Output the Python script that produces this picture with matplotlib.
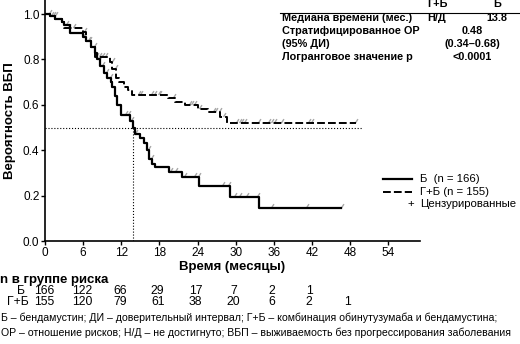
import numpy as np
import matplotlib
matplotlib.use("Agg")
import matplotlib.pyplot as plt
from matplotlib.path import Path

plt.rcParams['font.family'] = ['Liberation Sans Narrow', 'Liberation Sans', 'DejaVu Sans']

# Б (бендамустин): ступени кривой Каплана-Мейера
b_time = [0, 0.8, 1.6, 2.6, 3.0, 3.9, 5.9, 6.5, 7.3, 7.9, 8.2, 8.7, 9.3, 9.8, 10.4, 10.6,
          11.0, 11.4, 11.9, 13.3, 13.8, 14.2, 14.9, 15.6, 16.1, 16.4, 16.9, 17.3, 19.5,
          21.6, 24.2, 29.1, 33.6, 46.6]
b_surv = [1.0, 0.99, 0.98, 0.965, 0.95, 0.915, 0.90, 0.88, 0.855, 0.83, 0.80, 0.77, 0.74,
          0.72, 0.70, 0.68, 0.64, 0.60, 0.555, 0.53, 0.50, 0.47, 0.455, 0.43, 0.40, 0.36,
          0.34, 0.327, 0.305, 0.28, 0.242, 0.194, 0.145, 0.145]
b_cens = [0.6, 1.2, 3.3, 6.0, 6.8, 7.7, 8.3, 8.6, 9.0, 9.6, 10.2, 12.6, 13.0, 13.5, 14.2,
          16.2, 16.7, 19.7, 20.5, 21.8, 23.4, 24.0, 27.8, 28.8, 29.7, 30.5, 31.6, 33.4,
          35.5, 41.1, 46.6]

# Г+Б (обинутузумаб + бендамустин)
gb_time = [0, 0.8, 1.6, 2.6, 3.0, 5.9, 6.5, 7.3, 7.9, 10.3, 10.6, 11.1, 11.7, 12.5, 13.1,
           13.7, 19.4, 20.5, 22.1, 24.0, 25.7, 27.6, 28.7, 49.0]
gb_surv = [1.0, 0.99, 0.98, 0.965, 0.94, 0.92, 0.88, 0.855, 0.81, 0.79, 0.76, 0.72, 0.70,
           0.68, 0.665, 0.645, 0.63, 0.612, 0.60, 0.58, 0.568, 0.546, 0.52, 0.52]
gb_cens = [0.9, 1.5, 3.6, 4.4, 6.2, 7.0, 8.1, 8.5, 8.9, 9.4, 10.5, 11.0, 14.7, 15.0, 16.6,
           17.1, 17.7, 18.0, 20.1, 22.6, 22.9, 23.4, 24.2, 26.4, 26.7, 27.3, 28.0, 30.0,
           30.5, 30.8, 31.3, 33.5, 35.1, 35.5, 36.0, 37.1, 41.4, 41.9, 48.7]

median_b = 13.8

risk_b = [166, 122, 66, 29, 17, 7, 2, 1]
risk_gb = [155, 120, 79, 61, 38, 20, 6, 2, 1]

x_ticks = [0, 6, 12, 18, 24, 30, 36, 42, 48, 54]
y_ticks = [0.0, 0.2, 0.4, 0.6, 0.8, 1.0]


def step_value(times, surv, t):
    i = np.searchsorted(times, t, side='right') - 1
    return surv[max(i, 0)]


fig = plt.figure(figsize=(5.2, 3.44), dpi=100)
ax = fig.add_axes([45 / 520, 103 / 344, 375 / 520, 241 / 344])

ax.step(b_time, b_surv, where='post', color='black', lw=1.6, zorder=3)
ax.step(gb_time, gb_surv, where='post', color='black', lw=1.4, ls=(0, (4, 1.6)), zorder=3)

# метки цензурирования — короткие серые штрихи
tick = Path([(0, 0.2), (1.0, 1.8)])
for times, surv, cens in [(b_time, b_surv, b_cens), (gb_time, gb_surv, gb_cens)]:
    cy = [step_value(times, surv, t) for t in cens]
    ax.scatter(cens, cy, marker=tick, s=40, color='#a8a8a8', lw=1.0, zorder=2)

ax.plot([0, 50], [0.5, 0.5], color='black', ls=':', lw=0.8, zorder=1)
ax.plot([median_b, median_b], [0, 0.5], color='black', ls=':', lw=0.8, zorder=1)

ax.set_xlim(0, 59)
ax.set_ylim(0, 1.062)
ax.set_xticks(x_ticks)
ax.set_yticks(y_ticks)
ax.set_yticklabels([f'{v:.1f}' for v in y_ticks])
ax.spines['top'].set_visible(False)
ax.spines['right'].set_visible(False)
ax.spines['left'].set_linewidth(1.2)
ax.spines['bottom'].set_linewidth(1.2)
ax.tick_params(length=3, width=1.0, labelsize=8.5, pad=1)
ax.set_xlabel('Время (месяцы)', fontsize=9.5, fontweight='bold', labelpad=2)
ax.set_ylabel('Вероятность ВБП', fontsize=9.5, fontweight='bold', labelpad=0)
ax.yaxis.set_label_coords(-0.078, 0.5)

# таблица в правом верхнем углу
fs = 7.8
fig.add_artist(plt.Line2D([280 / 520, 1.0], [1 - 13 / 344, 1 - 13 / 344], color='black', lw=0.8))


def ftxt(x, y, s, **kw):
    fig.text(x / 520, 1 - y / 344, s, fontsize=kw.pop('fontsize', fs), va='center', **kw)


ftxt(437, 4, 'Г+Б', ha='center', fontweight='bold')
ftxt(497, 4, 'Б', ha='center', fontweight='bold')
ftxt(282, 18, 'Медиана времени (мес.)', ha='left', fontweight='bold')
ftxt(437, 18, 'Н/Д', ha='center', fontweight='bold')
ftxt(507, 18, '13.8', ha='right', fontweight='bold')
ftxt(282, 31, 'Стратифицированное ОР', ha='left', fontweight='bold')
ftxt(472, 31, '0.48', ha='center', fontweight='bold')
ftxt(282, 44, '(95% ДИ)', ha='left', fontweight='bold')
ftxt(472, 44, '(0.34–0.68)', ha='center', fontweight='bold')
ftxt(282, 57, 'Логранговое значение р', ha='left', fontweight='bold')
ftxt(472, 57, '<0.0001', ha='center', fontweight='bold')

# легенда
fig.add_artist(plt.Line2D([383 / 520, 412 / 520], [1 - 179 / 344] * 2, color='black', lw=1.6))
fig.add_artist(plt.Line2D([383 / 520, 412 / 520], [1 - 192 / 344] * 2, color='black', lw=1.4,
                          ls=(0, (4, 1.6))))
ftxt(420, 179, 'Б  (n = 166)', ha='left', fontsize=8.2)
ftxt(420, 192, 'Г+Б (n = 155)', ha='left', fontsize=8.2)
ftxt(411, 204, '+', ha='center', fontsize=8.2)
ftxt(420, 204, 'Цензурированные', ha='left', fontsize=8.2)

# число пациентов в группе риска
ftxt(0, 280, 'n в группе риска', ha='left', fontweight='bold', fontsize=9.5)
ftxt(21, 291, 'Б', ha='center', fontsize=8.8)
ftxt(7, 302, 'Г+Б', ha='left', fontsize=8.8)
for i, n in enumerate(risk_b):
    ftxt(44 + 37.9 * i, 291, str(n), ha='center', fontsize=8.8)
for i, n in enumerate(risk_gb):
    ftxt(44 + 37.9 * i, 302, str(n), ha='center', fontsize=8.8)

ftxt(1, 318, 'Б – бендамустин; ДИ – доверительный интервал; Г+Б – комбинация обинутузумаба и бендамустина;',
     ha='left', fontsize=7.6)
ftxt(1, 333, 'ОР – отношение рисков; Н/Д – не достигнуто; ВБП – выживаемость без прогрессирования заболевания',
     ha='left', fontsize=7.6)

fig.savefig('out.png', dpi=100)
